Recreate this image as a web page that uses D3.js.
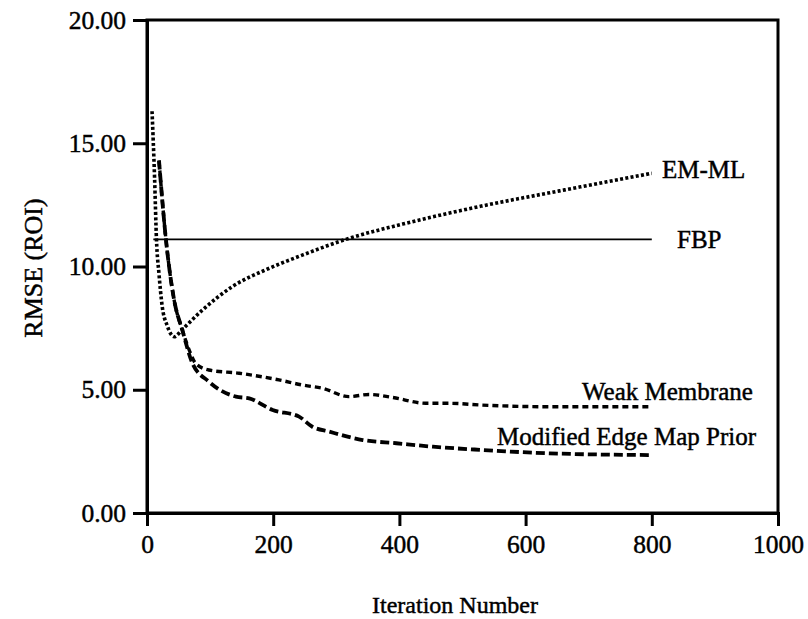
<!DOCTYPE html>
<html>
<head>
<meta charset="utf-8">
<script src="https://cdn.jsdelivr.net/npm/d3@7"></script>
<style>
  html, body { margin: 0; padding: 0; background: #fff; }
  svg { display: block; }
  text { font-family: "Liberation Serif", "Times New Roman", serif; fill: #000; stroke: #000; stroke-width: 0.45px; }
</style>
</head>
<body>
<svg id="chart" width="808" height="619"></svg>
<script>
// RMSE within the ROI versus iteration number for each reconstruction method
const emIter   = [8, 12, 15, 19, 24, 32, 43, 56, 88, 135, 194, 247, 315, 405, 530, 650, 800];
const emRmse   = [16.3, 13.6, 11.1, 9.7, 8.4, 7.6, 7.15, 7.45, 8.24, 9.18, 9.93, 10.47, 11.1, 11.72, 12.45, 13.05, 13.78];

const wmIter   = [19, 30, 43, 56, 69, 77, 98, 146, 209, 247, 278, 320, 352, 389, 442, 479, 530, 638, 800];
const wmRmse   = [14.3, 11.1, 8.64, 7.42, 6.48, 6.07, 5.8, 5.67, 5.4, 5.19, 5.06, 4.72, 4.81, 4.69, 4.45, 4.45, 4.38, 4.31, 4.31];

const memIter  = [19, 30, 43, 56, 72, 98, 141, 162, 199, 241, 262, 289, 342, 395, 453, 530, 638, 800];
const memRmse  = [14.3, 11.1, 8.64, 7.42, 6.07, 5.33, 4.72, 4.65, 4.18, 3.91, 3.5, 3.3, 2.96, 2.83, 2.69, 2.56, 2.42, 2.35];

const fbpIter  = [10, 800];
const fbpRmse  = [11.1, 11.1];

const xTicks = [0, 200, 400, 600, 800, 1000];
const yTicks = [0, 5, 10, 15, 20];

const seriesNames = ["EM-ML", "FBP", "Weak Membrane", "Modified Edge Map Prior"];

const svg = d3.select("#chart");
const plotLeft = 147, plotRight = 778, plotTop = 20, plotBottom = 513;

const x = d3.scaleLinear().domain([0, 1000]).range([plotLeft, plotRight]);
const y = d3.scaleLinear().domain([0, 20]).range([plotBottom, plotTop]);

const zip = (a, b) => a.map((v, i) => [v, b[i]]);
const line = d3.line().x(d => x(d[0])).y(d => y(d[1])).curve(d3.curveMonotoneX);

// frame
svg.append("rect")
  .attr("x", plotLeft).attr("y", plotTop)
  .attr("width", plotRight - plotLeft).attr("height", plotBottom - plotTop)
  .attr("fill", "none").attr("stroke", "#000").attr("stroke-width", 3);

// axes
const yAxis = d3.axisLeft(y).tickValues(yTicks).tickFormat(d3.format(".2f")).tickSize(14).tickPadding(7);
const xAxis = d3.axisBottom(x).tickValues(xTicks).tickFormat(d3.format("d")).tickSize(13).tickPadding(9);

const gy = svg.append("g").attr("transform", `translate(${plotLeft},0)`).call(yAxis);
const gx = svg.append("g").attr("transform", `translate(0,${plotBottom})`).call(xAxis);
[gx, gy].forEach(g => {
  g.select(".domain").attr("stroke", "#000").attr("stroke-width", 3);
  g.selectAll(".tick line").attr("stroke", "#000").attr("stroke-width", 3);
  g.selectAll(".tick text").attr("font-size", 25.5).attr("font-family", "Liberation Serif").attr("fill", "#000");
});

// series
svg.append("path").datum(zip(fbpIter, fbpRmse)).attr("d", line)
  .attr("fill", "none").attr("stroke", "#000").attr("stroke-width", 1.8);

svg.append("path").datum(zip(emIter, emRmse)).attr("d", line)
  .attr("fill", "none").attr("stroke", "#000").attr("stroke-width", 3.6)
  .attr("stroke-dasharray", "3,2.3");

svg.append("path").datum(zip(wmIter, wmRmse)).attr("d", line)
  .attr("fill", "none").attr("stroke", "#000").attr("stroke-width", 3.4)
  .attr("stroke-dasharray", "6,4");

svg.append("path").datum(zip(memIter, memRmse)).attr("d", line)
  .attr("fill", "none").attr("stroke", "#000").attr("stroke-width", 3.8)
  .attr("stroke-dasharray", "9,4");

// series labels
const labelPos = [[662, 178], [677, 248], [582, 400], [497, 445]];
svg.selectAll(".series-label").data(seriesNames).enter().append("text")
  .attr("class", "series-label")
  .attr("x", (d, i) => labelPos[i][0])
  .attr("y", (d, i) => labelPos[i][1])
  .attr("font-size", 25)
  .text(d => d);

// axis titles
svg.append("text").attr("x", 455).attr("y", 613).attr("text-anchor", "middle")
  .attr("font-size", 24).text("Iteration Number");
svg.append("text").attr("transform", "translate(42,268) rotate(-90)").attr("text-anchor", "middle")
  .attr("font-size", 26).text("RMSE (ROI)");
</script>
</body>
</html>
